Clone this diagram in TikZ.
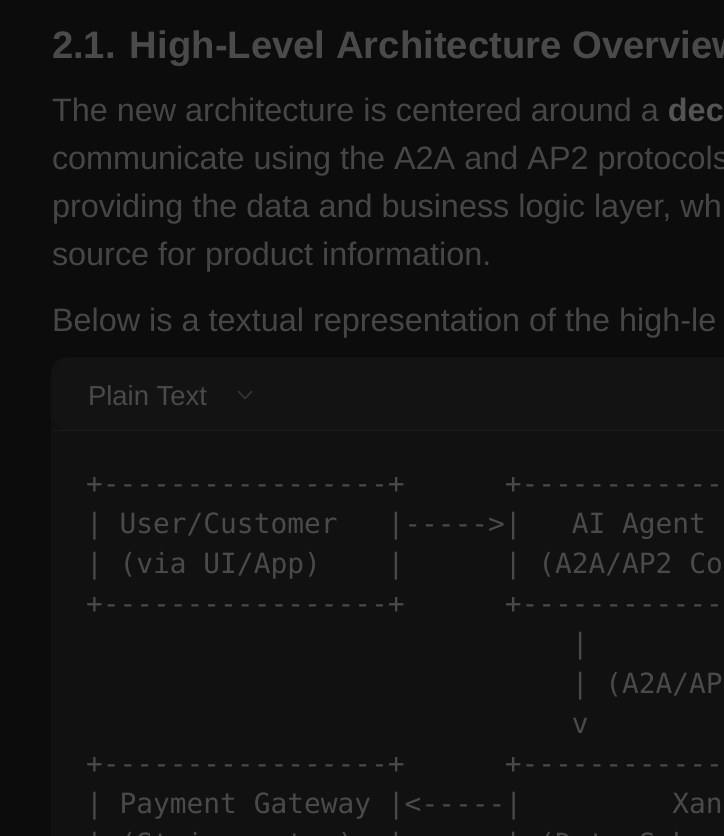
\documentclass[tikz,border=0pt]{standalone}
\usepackage{fontspec}
\setmainfont{Liberation Sans}
\newfontfamily\codefont{DejaVu Sans Mono}[Ligatures=TeXOff]

\definecolor{pagebg}{HTML}{0C0C0C}
\definecolor{boxbg}{HTML}{111111}
\definecolor{boxhead}{HTML}{131313}
\definecolor{boxline}{HTML}{1C1C1C}
\definecolor{headgray}{HTML}{4A4A4A}
\definecolor{bodygray}{HTML}{464646}
\definecolor{boldgray}{HTML}{545454}
\definecolor{codegray}{HTML}{4A4A4A}
\definecolor{chevgray}{HTML}{363636}

\begin{document}
\begin{tikzpicture}[x=0.75pt,y=-0.75pt,
  txt/.style={anchor=base west,inner sep=0pt,outer sep=0pt},
  para/.style={txt,text=bodygray,font=\fontsize{24.3}{24.3}\selectfont},
  code/.style={txt,text=codegray,font=\codefont\fontsize{20.9}{20.9}\selectfont}]
\useasboundingbox (0,0) rectangle (724,836);
\clip (0,0) rectangle (724,836);
\fill [pagebg] (0,0) rectangle (724,836);
% heading and text
\node [txt,text=headgray,font=\bfseries\fontsize{28.7}{28.7}\selectfont] (title) at (52,58) {2.1. High-Level Architecture Overview};
\node [para] (p1) at (52,121) {The new architecture is centered around a \textcolor{boldgray}{\bfseries dec}};
\node [para] (p2) at (52,169) {communicate using the A2A and AP2 protocols};
\node [para] (p3) at (52,217) {providing the data and business logic layer, wh};
\node [para] (p4) at (52,265) {source for product information.};
\node [para] (p5) at (52,331) {Below is a textual representation of the high-le};
% code box
\draw [boxline,fill=boxbg,rounded corners=12] (52,358) rectangle (760,900);
\fill [boxhead,rounded corners=12] (53,359) -- (53,430) -- (759,430) -- (759,359) -- cycle;
\draw [boxline] (53,430.5) -- (724,430.5);
\node [txt,text=headgray,font=\fontsize{20.6}{20.6}\selectfont] (lang) at (88,405) {Plain Text};
\draw [chevgray,line width=1.1pt,line cap=round,line join=round] (238.5,391.5) -- (245,398.5) -- (251.5,391.5);
% ascii diagram, one column = 16.75
\node [code] (b1l) at (86,493) {+-----------------+};
\node [code] (b1r) at ({86+16.75*25},493) {+------------};
\node [code] (u1) at (86,533) {| User/Customer};
\node [code] (u2) at ({86+16.75*18},533) {|----->|};
\node [code] (a1) at ({86+16.75*29},533) {AI Agent};
\node [code] (u3) at (86,573) {| (via UI/App)};
\node [code] (u4) at ({86+16.75*18},573) {|};
\node [code] (a2) at ({86+16.75*25},573) {| (A2A/AP2 Co};
\node [code] (b2l) at (86,613) {+-----------------+};
\node [code] (b2r) at ({86+16.75*25},613) {+------------};
\node [code] (d1) at ({86+16.75*29},653) {|};
\node [code] (d2) at ({86+16.75*29},693) {| (A2A/AP};
\node [code] (d3) at ({86+16.75*29},733) {v};
\node [code] (b3l) at (86,773) {+-----------------+};
\node [code] (b3r) at ({86+16.75*25},773) {+------------};
\node [code] (g1) at (86,813) {| Payment Gateway |<-----|};
\node [code] (x1) at ({86+16.75*35},813) {Xan};
\node [code] (g2) at (86,853) {| (Stripe, etc.)};
\node [code] (g3) at ({86+16.75*18},853) {|};
\node [code] (x2) at ({86+16.75*25},853) {| (Data Sch};
\end{tikzpicture}
\end{document}
